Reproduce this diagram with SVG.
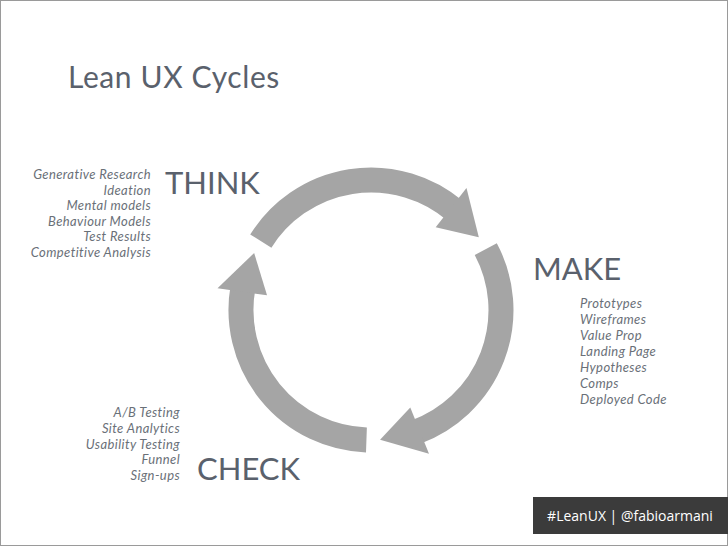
<svg xmlns="http://www.w3.org/2000/svg" width="728" height="546" viewBox="0 0 728 546">
<style>
.h{font-family:Lato,"Open Sans",sans-serif;fill:#5a616c}
.s{font-family:Lato,"Open Sans",sans-serif;font-style:italic;font-size:13px;letter-spacing:0.4px;fill:#6a7078}
.arc{fill:none;stroke:#a5a5a5;stroke-width:25}
.hd{fill:#a5a5a5}
</style>
<rect x="0.5" y="0.5" width="727" height="545" fill="#fff" stroke="#9a9a9a"/>
<text class="h" x="68" y="88" font-size="30" letter-spacing="0.6">Lean UX Cycles</text>
<g id="connectors">
<defs>
<g id="arrow">
<path class="arc" d="M260.8,241.1 A130,130 0 0 1 454.6,210.4"/>
<polygon class="hd" points="435.7,227.3 466.5,187.9 478.8,237.3"/>
</g>
</defs>
<use href="#arrow"/>
<use href="#arrow" transform="rotate(120 371 310)"/>
<use href="#arrow" transform="rotate(240 371 310)"/>
</g>
<g id="think">
<text class="h" x="165" y="194" font-size="31">THINK</text>
<text class="s" text-anchor="end"><tspan x="151" y="179">Generative Research</tspan><tspan x="151" y="195">Ideation</tspan><tspan x="151" y="210">Mental models</tspan><tspan x="151" y="226">Behaviour Models</tspan><tspan x="151" y="241">Test Results</tspan><tspan x="151" y="257">Competitive Analysis</tspan></text>
</g>
<g id="make">
<text class="h" x="533" y="280" font-size="31">MAKE</text>
<text class="s"><tspan x="580" y="308">Prototypes</tspan><tspan x="580" y="324">Wireframes</tspan><tspan x="580" y="340">Value Prop</tspan><tspan x="580" y="356">Landing Page</tspan><tspan x="580" y="372">Hypotheses</tspan><tspan x="580" y="388">Comps</tspan><tspan x="580" y="404">Deployed Code</tspan></text>
</g>
<g id="check">
<text class="h" x="197" y="480" font-size="31">CHECK</text>
<text class="s" text-anchor="end"><tspan x="180" y="417">A/B Testing</tspan><tspan x="180" y="433">Site Analytics</tspan><tspan x="180" y="449">Usability Testing</tspan><tspan x="180" y="464">Funnel</tspan><tspan x="180" y="480">Sign-ups</tspan></text>
</g>
<g id="footer">
<rect x="533" y="497" width="195" height="37" fill="#3b3b3b"/>
<text x="630" y="521" text-anchor="middle" font-family="'Open Sans',sans-serif" font-size="14" fill="#fff">#LeanUX | @fabioarmani</text>
</g>
</svg>
